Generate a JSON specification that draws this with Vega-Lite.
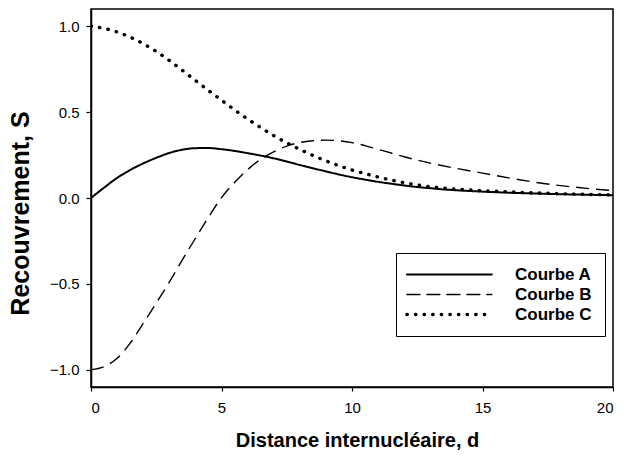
{
  "$schema": "https://vega.github.io/schema/vega-lite/v6.json",
  "width": 522,
  "height": 378,
  "autosize": {"type": "none"},
  "padding": {"left": 91, "top": 9, "right": 11, "bottom": 72},
  "background": "white",
  "config": {
    "view": {"stroke": "black", "strokeWidth": 1.5},
    "font": "Liberation Sans",
    "axis": {
      "grid": false,
      "domainColor": "black",
      "domainWidth": 1.5,
      "tickColor": "black",
      "tickWidth": 1.2,
      "labelColor": "black",
      "labelFont": "Liberation Sans",
      "labelFontSize": 15,
      "titleColor": "black",
      "titleFont": "Liberation Sans",
      "titleFontWeight": "bold"
    }
  },
  "data": {
    "values": [
      {"d": 0, "S": 0.0, "curve": "Courbe A"},
      {"d": 0.5, "S": 0.06, "curve": "Courbe A"},
      {"d": 1, "S": 0.117, "curve": "Courbe A"},
      {"d": 1.5, "S": 0.163, "curve": "Courbe A"},
      {"d": 2, "S": 0.201, "curve": "Courbe A"},
      {"d": 2.5, "S": 0.234, "curve": "Courbe A"},
      {"d": 3, "S": 0.262, "curve": "Courbe A"},
      {"d": 3.5, "S": 0.281, "curve": "Courbe A"},
      {"d": 4, "S": 0.29, "curve": "Courbe A"},
      {"d": 4.5, "S": 0.291, "curve": "Courbe A"},
      {"d": 5, "S": 0.284, "curve": "Courbe A"},
      {"d": 5.5, "S": 0.274, "curve": "Courbe A"},
      {"d": 6, "S": 0.261, "curve": "Courbe A"},
      {"d": 6.5, "S": 0.247, "curve": "Courbe A"},
      {"d": 7, "S": 0.231, "curve": "Courbe A"},
      {"d": 7.5, "S": 0.212, "curve": "Courbe A"},
      {"d": 8, "S": 0.192, "curve": "Courbe A"},
      {"d": 8.5, "S": 0.173, "curve": "Courbe A"},
      {"d": 9, "S": 0.155, "curve": "Courbe A"},
      {"d": 9.5, "S": 0.137, "curve": "Courbe A"},
      {"d": 10, "S": 0.121, "curve": "Courbe A"},
      {"d": 10.5, "S": 0.107, "curve": "Courbe A"},
      {"d": 11, "S": 0.094, "curve": "Courbe A"},
      {"d": 11.5, "S": 0.083, "curve": "Courbe A"},
      {"d": 12, "S": 0.073, "curve": "Courbe A"},
      {"d": 12.5, "S": 0.064, "curve": "Courbe A"},
      {"d": 13, "S": 0.057, "curve": "Courbe A"},
      {"d": 13.5, "S": 0.05, "curve": "Courbe A"},
      {"d": 14, "S": 0.045, "curve": "Courbe A"},
      {"d": 15, "S": 0.037, "curve": "Courbe A"},
      {"d": 16, "S": 0.031, "curve": "Courbe A"},
      {"d": 17, "S": 0.026, "curve": "Courbe A"},
      {"d": 18, "S": 0.022, "curve": "Courbe A"},
      {"d": 19, "S": 0.019, "curve": "Courbe A"},
      {"d": 20, "S": 0.016, "curve": "Courbe A"},
      {"d": 0, "S": -1.0, "curve": "Courbe B"},
      {"d": 0.5, "S": -0.982, "curve": "Courbe B"},
      {"d": 1, "S": -0.933, "curve": "Courbe B"},
      {"d": 1.5, "S": -0.845, "curve": "Courbe B"},
      {"d": 2, "S": -0.73, "curve": "Courbe B"},
      {"d": 2.5, "S": -0.612, "curve": "Courbe B"},
      {"d": 3, "S": -0.49, "curve": "Courbe B"},
      {"d": 3.5, "S": -0.36, "curve": "Courbe B"},
      {"d": 4, "S": -0.235, "curve": "Courbe B"},
      {"d": 4.5, "S": -0.112, "curve": "Courbe B"},
      {"d": 5, "S": 0.002, "curve": "Courbe B"},
      {"d": 5.5, "S": 0.09, "curve": "Courbe B"},
      {"d": 6, "S": 0.165, "curve": "Courbe B"},
      {"d": 6.5, "S": 0.225, "curve": "Courbe B"},
      {"d": 7, "S": 0.268, "curve": "Courbe B"},
      {"d": 7.5, "S": 0.302, "curve": "Courbe B"},
      {"d": 8, "S": 0.323, "curve": "Courbe B"},
      {"d": 8.5, "S": 0.333, "curve": "Courbe B"},
      {"d": 9, "S": 0.337, "curve": "Courbe B"},
      {"d": 9.5, "S": 0.333, "curve": "Courbe B"},
      {"d": 10, "S": 0.322, "curve": "Courbe B"},
      {"d": 10.5, "S": 0.305, "curve": "Courbe B"},
      {"d": 11, "S": 0.283, "curve": "Courbe B"},
      {"d": 11.5, "S": 0.262, "curve": "Courbe B"},
      {"d": 12, "S": 0.24, "curve": "Courbe B"},
      {"d": 13, "S": 0.203, "curve": "Courbe B"},
      {"d": 14, "S": 0.172, "curve": "Courbe B"},
      {"d": 15, "S": 0.145, "curve": "Courbe B"},
      {"d": 16, "S": 0.117, "curve": "Courbe B"},
      {"d": 17, "S": 0.092, "curve": "Courbe B"},
      {"d": 18, "S": 0.072, "curve": "Courbe B"},
      {"d": 19, "S": 0.056, "curve": "Courbe B"},
      {"d": 20, "S": 0.043, "curve": "Courbe B"},
      {"d": 0, "S": 1.0, "curve": "Courbe C"},
      {"d": 0.5, "S": 0.987, "curve": "Courbe C"},
      {"d": 1, "S": 0.966, "curve": "Courbe C"},
      {"d": 1.5, "S": 0.936, "curve": "Courbe C"},
      {"d": 2, "S": 0.898, "curve": "Courbe C"},
      {"d": 2.5, "S": 0.853, "curve": "Courbe C"},
      {"d": 3, "S": 0.8, "curve": "Courbe C"},
      {"d": 3.5, "S": 0.743, "curve": "Courbe C"},
      {"d": 4, "S": 0.684, "curve": "Courbe C"},
      {"d": 4.5, "S": 0.626, "curve": "Courbe C"},
      {"d": 5, "S": 0.569, "curve": "Courbe C"},
      {"d": 5.5, "S": 0.513, "curve": "Courbe C"},
      {"d": 6, "S": 0.46, "curve": "Courbe C"},
      {"d": 6.5, "S": 0.41, "curve": "Courbe C"},
      {"d": 7, "S": 0.363, "curve": "Courbe C"},
      {"d": 7.5, "S": 0.321, "curve": "Courbe C"},
      {"d": 8, "S": 0.283, "curve": "Courbe C"},
      {"d": 8.5, "S": 0.248, "curve": "Courbe C"},
      {"d": 9, "S": 0.216, "curve": "Courbe C"},
      {"d": 9.5, "S": 0.188, "curve": "Courbe C"},
      {"d": 10, "S": 0.163, "curve": "Courbe C"},
      {"d": 10.5, "S": 0.142, "curve": "Courbe C"},
      {"d": 11, "S": 0.122, "curve": "Courbe C"},
      {"d": 11.5, "S": 0.104, "curve": "Courbe C"},
      {"d": 12, "S": 0.089, "curve": "Courbe C"},
      {"d": 12.5, "S": 0.076, "curve": "Courbe C"},
      {"d": 13, "S": 0.066, "curve": "Courbe C"},
      {"d": 13.5, "S": 0.058, "curve": "Courbe C"},
      {"d": 14, "S": 0.052, "curve": "Courbe C"},
      {"d": 15, "S": 0.043, "curve": "Courbe C"},
      {"d": 16, "S": 0.036, "curve": "Courbe C"},
      {"d": 17, "S": 0.03, "curve": "Courbe C"},
      {"d": 18, "S": 0.025, "curve": "Courbe C"},
      {"d": 19, "S": 0.021, "curve": "Courbe C"},
      {"d": 20, "S": 0.018, "curve": "Courbe C"}
    ]
  },
  "encoding": {
    "x": {
      "field": "d",
      "type": "quantitative",
      "scale": {"domain": [0, 20], "nice": false, "zero": false},
      "axis": {
        "values": [0, 5, 10, 15, 20],
        "title": "Distance internucléaire, d",
        "titleFontSize": 20,
        "tickSize": 4,
        "labelPadding": 9,
        "titleBaseline": "middle",
        "titleX": 266,
        "titleY": 53
      }
    },
    "y": {
      "field": "S",
      "type": "quantitative",
      "scale": {"domain": [-1.1, 1.1], "nice": false, "zero": false},
      "axis": {
        "values": [-1, -0.5, 0, 0.5, 1],
        "format": ".1f",
        "title": "Recouvrement, S",
        "titleFontSize": 25,
        "tickSize": 5,
        "labelPadding": 7,
        "titleAngle": 270,
        "titleAlign": "center",
        "titleBaseline": "middle",
        "titleX": -71,
        "titleY": 204
      }
    },
    "strokeDash": {
      "field": "curve",
      "type": "nominal",
      "scale": {"domain": ["Courbe A", "Courbe B", "Courbe C"], "range": [[1, 0], [13, 7], [0.4, 8.2]]},
      "legend": {
        "title": null,
        "orient": "none",
        "legendX": 305,
        "legendY": 244,
        "symbolType": "M-1,0H7",
        "symbolSize": 451,
        "symbolStrokeColor": "black",
        "labelFont": "Liberation Sans",
        "labelFontWeight": "bold",
        "labelFontSize": 17,
        "labelColor": "black",
        "labelOffset": 89,
        "rowPadding": 2,
        "padding": 13,
        "strokeColor": "black",
        "fillColor": "white",
        "cornerRadius": 0,
        "encode": {
          "symbols": {
            "update": {
              "strokeWidth": {"signal": "datum.value === 'Courbe C' ? 3.4 : (datum.value === 'Courbe B' ? 1.4 : 2)"},
              "strokeCap": {"value": "round"}
            }
          }
        }
      }
    }
  },
  "layer": [
    {
      "transform": [{"filter": "datum.curve === 'Courbe A'"}],
      "mark": {"type": "line", "interpolate": "monotone", "color": "black", "strokeWidth": 2, "clip": true}
    },
    {
      "transform": [{"filter": "datum.curve === 'Courbe B'"}],
      "mark": {"type": "line", "interpolate": "monotone", "color": "black", "strokeWidth": 1.4, "clip": true}
    },
    {
      "transform": [{"filter": "datum.curve === 'Courbe C'"}],
      "mark": {"type": "line", "interpolate": "monotone", "color": "black", "strokeWidth": 3.4, "strokeCap": "round", "clip": true}
    }
  ]
}
